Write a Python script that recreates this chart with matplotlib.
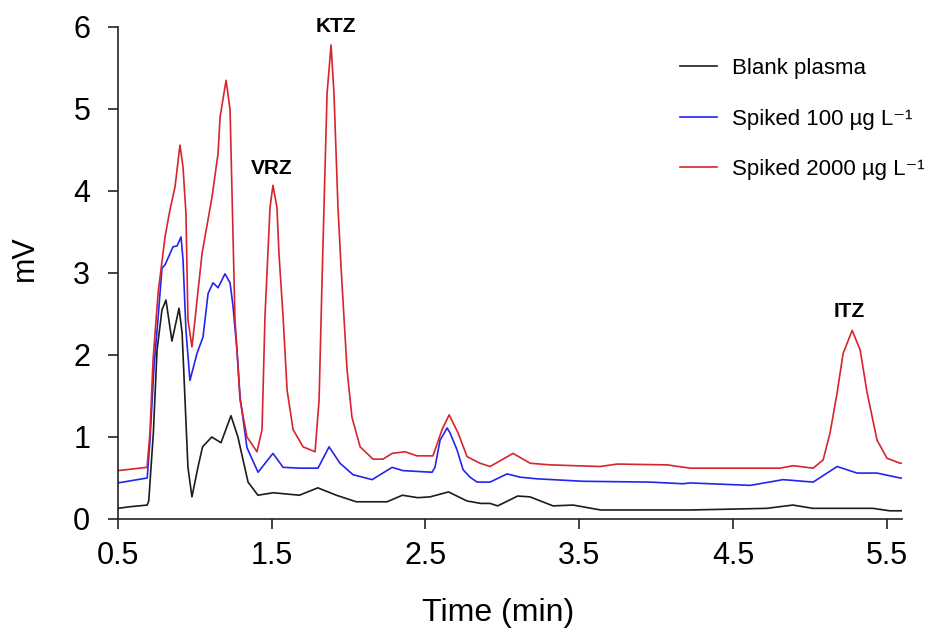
import matplotlib

matplotlib.use('Agg')
import matplotlib.pyplot as plt

plt.rcParams['font.family'] = ['Liberation Sans', 'DejaVu Sans']

# Chromatogram traces (time in min, signal in mV)
blank_time = [0.50, 0.58, 0.69, 0.70, 0.73, 0.754, 0.786, 0.812, 0.851, 0.897, 0.917, 0.936, 0.955, 0.981,
              1.02, 1.05, 1.11, 1.17, 1.235, 1.28, 1.346, 1.41, 1.51, 1.68, 1.80, 1.92, 2.05, 2.25, 2.35,
              2.45, 2.53, 2.65, 2.77, 2.86, 2.92, 2.97, 3.10, 3.18, 3.33, 3.46, 3.64, 4.22, 4.48, 4.72,
              4.89, 5.02, 5.41, 5.52, 5.60]
blank_mv = [0.13, 0.15, 0.17, 0.22, 1.05, 2.06, 2.55, 2.67, 2.17, 2.57, 2.27, 1.45, 0.63, 0.27,
            0.63, 0.88, 1.00, 0.93, 1.26, 1.00, 0.45, 0.29, 0.32, 0.29, 0.38, 0.29, 0.21, 0.21, 0.29,
            0.26, 0.27, 0.33, 0.22, 0.19, 0.19, 0.16, 0.28, 0.27, 0.16, 0.17, 0.11, 0.11, 0.12, 0.13,
            0.17, 0.13, 0.13, 0.10, 0.10]

low_time = [0.50, 0.69, 0.708, 0.734, 0.761, 0.786, 0.806, 0.858, 0.884, 0.910, 0.923, 0.942, 0.968,
            1.014, 1.053, 1.086, 1.118, 1.151, 1.196, 1.229, 1.248, 1.274, 1.294, 1.339, 1.411, 1.508,
            1.574, 1.684, 1.801, 1.873, 1.944, 2.029, 2.153, 2.283, 2.354, 2.543, 2.562, 2.595, 2.641,
            2.660, 2.706, 2.745, 2.790, 2.836, 2.920, 3.031, 3.116, 3.226, 3.525, 3.961, 4.176, 4.222,
            4.612, 4.827, 5.022, 5.178, 5.308, 5.438, 5.588, 5.60]
low_mv = [0.44, 0.50, 0.96, 1.85, 2.46, 3.06, 3.10, 3.32, 3.33, 3.44, 3.16, 2.30, 1.69,
          2.02, 2.22, 2.75, 2.88, 2.82, 2.99, 2.88, 2.60, 2.06, 1.49, 0.87, 0.57, 0.80,
          0.63, 0.62, 0.62, 0.88, 0.68, 0.54, 0.48, 0.63, 0.59, 0.57, 0.63, 0.96, 1.11,
          1.05, 0.84, 0.60, 0.51, 0.45, 0.45, 0.55, 0.51, 0.49, 0.46, 0.45, 0.43, 0.44,
          0.41, 0.48, 0.45, 0.64, 0.56, 0.56, 0.50, 0.50]

high_time = [0.50, 0.689, 0.708, 0.728, 0.754, 0.761, 0.806, 0.838, 0.871, 0.903, 0.923, 0.942, 0.955,
             0.981, 1.001, 1.014, 1.047, 1.112, 1.151, 1.164, 1.203, 1.229, 1.261, 1.274, 1.294, 1.339,
             1.404, 1.437, 1.456, 1.476, 1.489, 1.508, 1.534, 1.547, 1.574, 1.600, 1.639, 1.704, 1.782,
             1.808, 1.827, 1.840, 1.860, 1.886, 1.905, 1.931, 1.951, 1.990, 2.022, 2.075, 2.159, 2.224,
             2.283, 2.367, 2.445, 2.549, 2.608, 2.654, 2.712, 2.771, 2.855, 2.920, 3.070, 3.181, 3.311,
             3.636, 3.747, 4.072, 4.222, 4.807, 4.892, 5.022, 5.087, 5.132, 5.178, 5.217, 5.276, 5.328,
             5.373, 5.438, 5.503, 5.588, 5.60]
high_mv = [0.59, 0.63, 1.05, 1.94, 2.59, 2.76, 3.44, 3.77, 4.05, 4.56, 4.29, 3.73, 2.43,
           2.10, 2.43, 2.67, 3.24, 3.93, 4.46, 4.90, 5.35, 4.99, 2.43, 2.06, 1.45, 1.00,
           0.82, 1.09, 2.46, 3.28, 3.80, 4.07, 3.80, 3.24, 2.46, 1.57, 1.09, 0.88, 0.82,
           1.45, 2.88, 3.80, 5.19, 5.78, 5.19, 3.80, 3.07, 1.82, 1.24, 0.88, 0.73, 0.73,
           0.80, 0.82, 0.77, 0.77, 1.09, 1.27, 1.05, 0.76, 0.68, 0.64, 0.80, 0.68, 0.66,
           0.64, 0.67, 0.66, 0.62, 0.62, 0.65, 0.62, 0.72, 1.05, 1.54, 2.02, 2.30, 2.06,
           1.54, 0.96, 0.74, 0.68, 0.68]

series_labels = ['Blank plasma', 'Spiked 100 µg L⁻¹', 'Spiked 2000 µg L⁻¹']
series_colors = ['#1c1c1c', '#2424f0', '#d8242c']

# peak names and where they are written
peak_names = ['VRZ', 'KTZ', 'ITZ']
peak_label_time = [1.50, 1.92, 5.26]
peak_label_mv = [4.28, 6.00, 2.53]

x_ticks = [0.5, 1.5, 2.5, 3.5, 4.5, 5.5]
y_ticks = [0, 1, 2, 3, 4, 5, 6]

fig = plt.figure(figsize=(9.33, 6.35), dpi=100)
ax = fig.add_axes([118 / 933, 1 - 519 / 635, 784 / 933, 492 / 635])

traces = [(blank_time, blank_mv), (low_time, low_mv), (high_time, high_mv)]
for (t, mv), label, color in zip(traces, series_labels, series_colors):
    ax.plot(t, mv, color=color, lw=1.2, label=label)

for name, t, mv in zip(peak_names, peak_label_time, peak_label_mv):
    ax.text(t, mv, name, ha='center', va='center', fontsize=15, fontweight='bold')

ax.set_xlim(0.5, 5.6)
ax.set_ylim(0, 6)
ax.set_xticks(x_ticks)
ax.set_xticklabels([f'{v:.1f}' for v in x_ticks])
ax.set_yticks(y_ticks)
ax.spines['top'].set_visible(False)
ax.spines['right'].set_visible(False)
for side in ('left', 'bottom'):
    ax.spines[side].set_linewidth(1.2)
    ax.spines[side].set_color('#222222')
ax.tick_params(axis='both', direction='out', length=7, width=1.2, colors='#222222', labelsize=22,
               labelcolor='black')
ax.tick_params(axis='y', pad=13)
ax.tick_params(axis='x', pad=9)

ax.set_xlabel('Time (min)', fontsize=23)
ax.set_ylabel('mV', fontsize=22)
ax.xaxis.set_label_coords(0.485, -0.16)
ax.yaxis.set_label_coords(-0.10, 0.53)

ax.legend(loc='upper left', bbox_to_anchor=(680 / 933, 1 - 58 / 635), bbox_transform=fig.transFigure,
          frameon=False, fontsize=16, handlelength=1.65, handletextpad=0.7, labelspacing=1.33,
          borderpad=0, borderaxespad=0)

fig.savefig('out.png', dpi=100)
